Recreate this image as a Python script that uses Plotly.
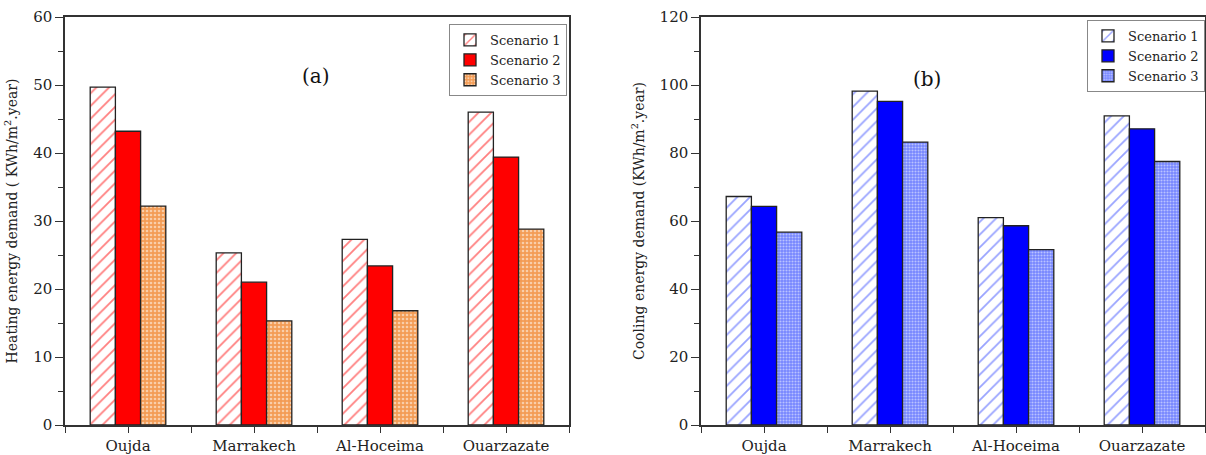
import plotly.graph_objects as go

cities = ["Oujda", "Marrakech", "Al-Hoceima", "Ouarzazate"]
scenarios = ["Scenario 1", "Scenario 2", "Scenario 3"]

heating_s1 = [49.7, 25.3, 27.3, 46.0]
heating_s2 = [43.2, 21.0, 23.4, 39.4]
heating_s3 = [32.2, 15.3, 16.8, 28.8]

cooling_s1 = [67.2, 98.2, 61.0, 90.9]
cooling_s2 = [64.3, 95.2, 58.6, 87.1]
cooling_s3 = [56.7, 83.2, 51.6, 77.5]

xpos = list(range(len(cities)))
FONT = "DejaVu Serif, Liberation Serif, serif"
W, H = 1206, 455
ML, MR, MT, MB = 0, 0, 17, 30

fig = go.Figure()

heat_styles = [
    dict(color="white", pattern=dict(shape="/", fgcolor="#FF0000", bgcolor="white", size=9, solidity=0.2)),
    dict(color="#FF0000"),
    dict(color="#F4A060", pattern=dict(shape=".", fgcolor="white", bgcolor="#F39C55", size=4, solidity=0.35)),
]
cool_styles = [
    dict(color="white", pattern=dict(shape="/", fgcolor="#3347FF", bgcolor="white", size=9, solidity=0.2)),
    dict(color="#0000FF"),
    dict(color="#8090FF", pattern=dict(shape=".", fgcolor="white", bgcolor="#7585FF", size=3, solidity=0.4)),
]

for name, vals, st in zip(scenarios, [heating_s1, heating_s2, heating_s3], heat_styles):
    fig.add_trace(go.Bar(x=xpos, y=vals, name=name, xaxis="x", yaxis="y",
                         marker=dict(line=dict(color="#222", width=1.3), **st),
                         legend="legend", offsetgroup=name))
for name, vals, st in zip(scenarios, [cooling_s1, cooling_s2, cooling_s3], cool_styles):
    fig.add_trace(go.Bar(x=xpos, y=vals, name=name, xaxis="x2", yaxis="y2",
                         marker=dict(line=dict(color="#222", width=1.3), **st),
                         legend="legend2", offsetgroup=name + "b"))

def px_x(p):
    return (p - ML) / (W - ML - MR)

def px_y(p):
    return (H - MB - p) / (H - MT - MB)

axis_common = dict(showline=True, linecolor="#333", linewidth=1.5, mirror=True,
                   ticks="outside", tickcolor="#333", tickwidth=1.3,
                   showgrid=False, zeroline=False,
                   tickfont=dict(family=FONT, size=15, color="#222"))

xax = dict(axis_common, range=[-0.5, 3.5], tickvals=xpos, ticktext=cities, ticklen=6,
           minor=dict(tickvals=[-0.5, 0.5, 1.5, 2.5, 3.5], ticklen=6, ticks="outside",
                      tickcolor="#333", tickwidth=1.3))

fig.update_layout(
    width=W, height=H,
    margin=dict(l=ML, r=MR, t=MT, b=MB),
    paper_bgcolor="white", plot_bgcolor="white",
    barmode="group", bargap=0.4, bargroupgap=0,
    font=dict(family=FONT, color="#222"),
    xaxis=dict(xax, domain=[px_x(65), px_x(569)], anchor="y"),
    xaxis2=dict(xax, domain=[px_x(701), px_x(1205)], anchor="y2"),
    yaxis=dict(axis_common, range=[0, 60], dtick=10, ticklen=8, anchor="x",
               minor=dict(dtick=5, ticklen=5, ticks="outside", tickcolor="#333", tickwidth=1.3),
               title=dict(text="Heating energy demand ( KWh/m<sup>2</sup>.year)",
                          font=dict(family=FONT, size=14, color="#222"), standoff=12)),
    yaxis2=dict(axis_common, range=[0, 120], dtick=20, ticklen=8, anchor="x2",
                minor=dict(dtick=10, ticklen=5, ticks="outside", tickcolor="#333", tickwidth=1.3),
                title=dict(text="Cooling energy demand (KWh/m<sup>2</sup>.year)",
                           font=dict(family=FONT, size=14, color="#222"), standoff=12)),
    legend=dict(x=px_x(449), y=px_y(24), xanchor="left", yanchor="top",
                bordercolor="#888", borderwidth=1, bgcolor="white",
                font=dict(family=FONT, size=13, color="#222"),
                tracegroupgap=0, itemwidth=30),
    legend2=dict(x=px_x(1087), y=px_y(20), xanchor="left", yanchor="top",
                 bordercolor="#888", borderwidth=1, bgcolor="white",
                 font=dict(family=FONT, size=13, color="#222"),
                 tracegroupgap=0, itemwidth=30),
    annotations=[
        dict(text="(a)", x=px_x(300), y=px_y(62), xref="paper", yref="paper",
             showarrow=False, font=dict(family=FONT, size=20, color="#111")),
        dict(text="(b)", x=px_x(943), y=px_y(65), xref="paper", yref="paper",
             showarrow=False, font=dict(family=FONT, size=20, color="#111")),
    ],
)

fig.write_html("out.html", config={"displayModeBar": False},
               post_script="document.body.style.margin='0px';")
